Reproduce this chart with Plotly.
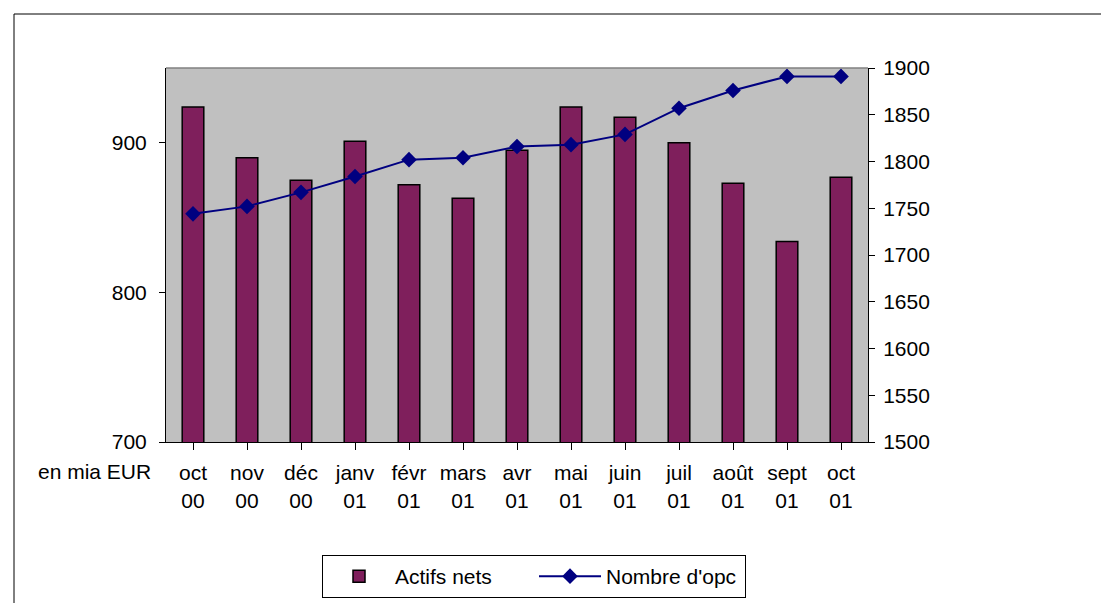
import plotly.graph_objects as go

months = ["oct<br>00", "nov<br>00", "déc<br>00", "janv<br>01", "févr<br>01", "mars<br>01",
          "avr<br>01", "mai<br>01", "juin<br>01", "juil<br>01", "août<br>01", "sept<br>01", "oct<br>01"]
actifs_nets = [924, 890, 875, 901, 872, 863, 895, 924, 917, 900, 873, 834, 877]
nombre_opc = [1744, 1752, 1767, 1784, 1802, 1804, 1816, 1818, 1829, 1857, 1876, 1891, 1891]
left_ticks = [700, 800, 900]
right_ticks = [1500, 1550, 1600, 1650, 1700, 1750, 1800, 1850, 1900]

FONT = "Liberation Sans, Arial, sans-serif"
FS = 21
cats = list(range(len(months)))

fig = go.Figure()
fig.add_trace(go.Bar(
    x=cats, y=actifs_nets, name="Actifs nets",
    marker=dict(color="#7f1f5c", line=dict(color="black", width=1.5)),
    yaxis="y",
))
fig.add_trace(go.Scatter(
    x=cats, y=nombre_opc, name="Nombre d'opc", mode="lines+markers",
    line=dict(color="#000080", width=2),
    marker=dict(symbol="diamond", size=12, color="#000080"),
    yaxis="y2",
))

W, H = 1101, 603
L, R, T, B = 166, 868, 68, 442
fig.update_layout(
    width=W, height=H,
    margin=dict(l=L, r=W - R, t=T, b=H - B, pad=0, autoexpand=False),
    paper_bgcolor="white", plot_bgcolor="#c0c0c0",
    font=dict(family=FONT, size=FS, color="black"),
    bargap=0.6,
    showlegend=True,
    legend=dict(
        orientation="h", x=(322 - L) / (R - L), y=(B - 555) / (B - T),
        xanchor="left", yanchor="top",
        bordercolor="black", borderwidth=1, bgcolor="white",
        font=dict(family=FONT, size=FS), itemwidth=62,
        entrywidth=134, entrywidthmode="pixels",
    ),
    xaxis=dict(
        tickmode="array", tickvals=cats, ticktext=months,
        range=[-0.5, len(months) - 0.5],
        showgrid=False, zeroline=False, automargin=False,
        showline=True, linecolor="black", linewidth=1,
        ticks="outside", ticklen=7, tickcolor="black", tickson="boundaries",
        ticklabelstandoff=5,
        tickfont=dict(family=FONT, size=FS),
    ),
    yaxis=dict(
        range=[700, 950], tickvals=left_ticks,
        showgrid=False, zeroline=False, automargin=False,
        showline=True, linecolor="black", linewidth=1,
        ticks="outside", ticklen=6, tickcolor="black",
        ticklabelstandoff=8,
        tickfont=dict(family=FONT, size=FS),
    ),
    yaxis2=dict(
        range=[1500, 1900], tickvals=right_ticks, overlaying="y", side="right",
        showgrid=False, zeroline=False, automargin=False,
        showline=True, linecolor="black", linewidth=1,
        ticks="outside", ticklen=6, tickcolor="black",
        ticklabelstandoff=4,
        tickfont=dict(family=FONT, size=FS),
    ),
)

# plot-area top border (grey) and outer frame
fig.add_shape(type="line", xref="paper", yref="paper", x0=0, x1=1, y0=1, y1=1,
              line=dict(color="#808080", width=1.5))
fig.add_shape(type="rect", xref="paper", yref="paper",
              x0=(14 - L) / (R - L), x1=(W + 5 - L) / (R - L),
              y0=(B - (H + 5)) / (B - T), y1=(B - 14) / (B - T),
              line=dict(color="black", width=1), fillcolor="rgba(0,0,0,0)", layer="below")

fig.add_annotation(text="en mia EUR", xref="paper", yref="paper",
                   x=(153 - L) / (R - L), y=(B - 471) / (B - T),
                   xanchor="right", yanchor="middle", showarrow=False,
                   font=dict(family=FONT, size=FS, color="black"))

fig.write_html("out.html", config={"displayModeBar": False},
               post_script="document.body.style.margin='0';document.body.style.overflow='hidden';")
